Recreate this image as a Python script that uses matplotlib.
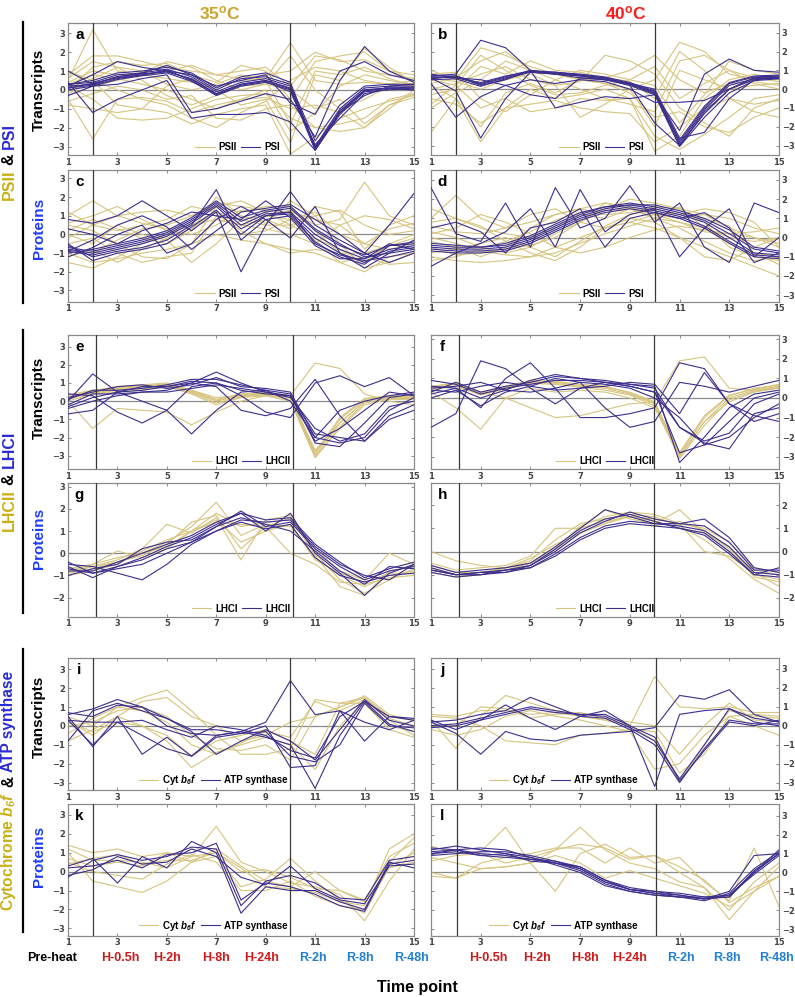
import matplotlib
matplotlib.use('Agg')
import matplotlib.pyplot as plt
from matplotlib.lines import Line2D
from matplotlib.transforms import blended_transform_factory

plt.rcParams['font.family'] = ['Liberation Sans', 'DejaVu Sans']
plt.rcParams['mathtext.fontset'] = 'custom'
plt.rcParams['mathtext.rm'] = 'Liberation Sans'
plt.rcParams['mathtext.bf'] = 'Liberation Sans:bold'
plt.rcParams['mathtext.it'] = 'Liberation Sans:italic'
plt.rcParams['mathtext.bfit'] = 'Liberation Sans:italic:bold'

# ---------------- data ----------------
time_points = list(range(1, 16))
xtick_vals = [1, 3, 5, 7, 9, 11, 13, 15]
stage_labels_left = ['Pre-heat', 'H-0.5h', 'H-2h', 'H-8h', 'H-24h', 'R-2h', 'R-8h', 'R-48h']
stage_labels_right = ['H-0.5h', 'H-2h', 'H-8h', 'H-24h', 'R-2h', 'R-8h', 'R-48h']

# a: 35C transcripts, PSII (gold) / PSI (purple)
a_gold = [
    [0.5, 3.2, 1.0, 0.8, 0.6, 0.4, 0.2, 0.5, 0.6, 2.5, 0.5, 0.3, 0.4, 0.3, 0.2],
    [-0.5, -2.6, -0.5, -0.4, -0.6, -1.2, -0.8, -0.5, -0.4, -1.0, -0.8, -1.2, -2.0, -0.8, -0.4],
    [0.8, 1.8, 1.8, 1.5, 1.2, 1.0, 0.8, 1.0, 1.2, 0.2, 1.8, 1.6, 1.0, 0.8, 0.6],
    [0.0, 1.2, 1.5, 1.3, 1.4, 0.8, 0.4, 1.3, 1.0, -0.5, 1.5, 1.8, 2.0, 1.0, 0.5],
    [-0.8, -1.0, -1.2, -1.0, -1.2, -1.8, -1.3, -1.0, -0.8, -3.4, -2.5, -1.5, -1.0, -0.6, -0.3],
    [0.3, 0.8, 0.6, 0.3, 0.0, -0.5, -1.0, -0.5, 0.0, -2.2, -1.2, 0.2, 0.8, 0.5, 0.3],
    [1.0, 0.5, 0.0, -0.5, -0.8, -1.5, -2.0, -1.2, -0.6, 0.5, 1.2, 1.0, 0.5, 0.3, 0.5],
    [0.2, -0.5, -1.5, -1.6, -1.5, -1.0, -0.5, -0.3, -0.2, -1.5, -2.0, -2.2, -2.0, -1.0, 0.0],
    [-0.3, 0.2, 0.5, 0.8, 1.0, 1.3, 0.8, 0.6, 0.8, 1.0, 2.0, 1.5, 1.6, 1.0, 0.8],
    [0.6, 1.5, 1.2, 0.5, -0.3, -0.8, -0.3, 0.2, 0.3, 0.0, -1.0, -0.5, -1.8, -0.8, -0.2],
    [-0.2, 0.5, -0.8, -1.0, 0.2, 0.6, 0.0, -0.8, -0.5, -2.8, 0.8, 0.5, 2.2, 1.2, 0.4],
    [0.4, 1.0, 0.8, 0.9, 1.5, 1.2, 0.5, 0.0, 0.3, 1.8, 0.0, -1.0, -0.5, 0.2, 0.3],
    [-0.6, -0.2, 0.2, 0.0, -0.5, -0.3, -1.5, -1.6, -1.0, -0.8, -2.0, -1.8, -1.5, -0.5, -0.2],
    [0.1, 0.6, 1.2, 1.0, 0.3, 0.0, 0.3, 0.8, 0.5, -1.8, 1.0, 0.8, 1.2, 0.6, 0.2],
]
a_purple = [
    [0.2, 0.3, 0.7, 0.85, 0.95, 0.6, -0.2, 0.3, 0.5, 0.1, -3.1, -1.1, 0.0, 0.1, 0.15],
    [0.1, 0.25, 0.6, 0.8, 1.05, 0.5, -0.3, 0.2, 0.4, 0.0, -3.2, -1.3, -0.1, 0.0, 0.1],
    [0.3, 0.4, 0.8, 0.9, 1.1, 0.7, -0.1, 0.4, 0.6, 0.2, -3.0, -1.0, 0.1, 0.2, 0.2],
    [0.0, 0.2, 0.55, 0.75, 0.9, 0.45, -0.25, 0.25, 0.45, -0.1, -2.9, -1.5, -0.2, 0.05, 0.0],
    [1.0, 0.3, 0.7, 0.9, 1.3, 0.8, 0.0, 0.6, 0.7, 0.3, -2.7, -0.8, 0.2, 0.3, 0.3],
    [0.4, -1.2, -0.5, 0.0, 0.5, -1.5, -1.3, -1.3, -1.2, -1.7, -3.2, -1.2, 0.0, 0.1, 0.0],
    [0.2, 0.8, 1.5, 1.2, 1.0, 0.8, 0.2, 0.5, 0.8, -0.7, -1.3, 1.0, 1.5, 0.8, 0.5],
    [-0.3, 0.2, 0.3, 0.6, 0.8, -1.2, -1.0, -0.6, -0.2, -0.5, -2.5, 0.5, 2.3, 1.0, 0.4],
    [0.3, 0.5, 0.9, 1.0, 1.2, 0.9, 0.1, 0.7, 0.9, 0.4, -3.1, -1.2, -0.3, 0.2, 0.3],
    [0.1, 0.35, 0.65, 0.8, 1.0, 0.55, -0.2, 0.3, 0.5, 0.05, -3.0, -1.2, -0.05, 0.1, 0.1],
]

# b: 40C transcripts, PSII / PSI
b_gold = [
    [-2.3, -0.5, -2.8, -1.0, 0.0, -0.5, -0.3, 0.0, -0.5, -2.5, -3.2, -2.4, -1.5, -0.5, -0.3],
    [1.0, 0.5, 2.2, 1.8, 1.2, 0.8, 0.5, 0.3, 0.0, 0.5, 2.5, 2.0, 0.8, 0.5, 0.6],
    [0.3, 0.6, 1.5, 2.0, 1.0, 0.5, 0.0, -0.5, -0.8, -1.2, 1.5, 1.8, 1.0, 0.3, 0.0],
    [-0.5, -0.8, -1.8, -1.0, -0.8, -0.6, -1.0, -1.2, -1.3, -2.8, -2.0, -1.0, -0.5, -1.2, -1.5],
    [0.0, 0.3, 0.8, 1.2, 0.5, 0.2, 0.4, 1.8, 1.5, 0.8, -1.0, -1.8, -2.5, -1.0, -0.5],
    [0.5, 0.2, -1.0, -0.5, -1.2, -1.0, -0.5, -0.6, -0.5, -3.3, -2.5, -0.5, 0.5, 0.8, 0.5],
    [-1.0, -0.2, 0.5, 1.5, 1.0, 0.8, 0.5, 0.6, 1.0, 1.8, 0.5, -0.2, 0.3, 0.4, 0.2],
    [0.8, 0.9, -0.5, -1.2, -0.3, 0.5, 1.0, 0.8, 0.5, 0.2, -1.8, -0.3, 1.5, 1.0, 0.8],
    [-0.3, 0.0, 1.2, 0.8, 1.5, 1.0, 0.9, 0.6, 0.4, -0.5, 2.0, 1.0, -0.5, -0.8, -0.6],
    [0.2, -0.5, -2.0, -0.2, 0.3, -0.2, 0.5, 0.3, -0.2, -1.5, -1.2, -2.0, -2.3, -1.5, -1.0],
    [0.6, 0.4, 0.0, 0.5, 0.8, 0.2, -1.5, -0.8, 0.0, -2.0, 1.0, 0.5, 0.0, 0.2, 0.3],
    [-0.8, 0.2, 1.8, 1.0, 0.2, -0.3, -0.2, 0.2, 0.5, 1.2, -0.5, 0.3, 1.0, 0.6, 0.4],
]
b_purple = [
    [0.6, 0.65, 0.25, 0.6, 0.95, 0.85, 0.75, 0.6, 0.3, -0.2, -2.9, -1.1, 0.2, 0.55, 0.65],
    [0.7, 0.7, 0.3, 0.65, 1.0, 0.9, 0.8, 0.65, 0.35, -0.1, -2.8, -1.0, 0.3, 0.65, 0.7],
    [0.5, 0.55, 0.15, 0.55, 0.9, 0.8, 0.7, 0.55, 0.2, -0.3, -3.0, -1.3, 0.0, 0.5, 0.6],
    [0.65, 0.6, 0.35, 0.7, 0.95, 0.9, 0.75, 0.6, 0.25, -0.25, -3.05, -1.5, -0.2, 0.45, 0.55],
    [0.55, 0.7, 0.2, 0.5, 1.0, 0.8, 0.7, 0.5, 0.3, -0.15, -2.7, -0.9, 0.35, 0.7, 0.75],
    [0.7, 0.8, 2.6, 2.2, 1.0, -1.0, -0.7, -0.4, -0.5, -0.3, -2.2, 0.8, 1.6, 1.0, 0.9],
    [0.6, -0.1, -2.6, -0.5, 0.9, 0.8, 0.6, 0.5, 0.2, -1.8, -3.0, -1.2, 0.0, 0.6, 0.6],
    [0.3, -1.5, -0.4, 0.2, 0.5, 0.3, 0.5, 0.4, 0.0, -0.7, -0.7, -0.6, 0.0, 0.6, 0.7],
    [0.8, 0.6, 0.5, 0.2, -0.3, -0.5, 0.6, 0.5, 0.3, 0.0, -2.6, -2.3, -0.5, 0.5, 0.6],
]

# c: 35C proteins, PSII / PSI
c_gold = [
    [1.0, 1.8, 1.0, 0.6, 0.3, 0.5, 1.2, 0.8, 1.0, 1.3, 0.5, 0.8, 2.8, 1.0, 0.5],
    [-1.0, -1.5, -1.3, -1.0, -0.8, -0.5, 0.0, -0.3, -0.5, -0.8, -1.0, -1.5, -2.0, -1.2, -1.0],
    [0.5, 0.2, -0.5, -1.2, -1.3, -0.5, 1.5, 1.8, 1.2, 0.5, -0.2, -0.8, -1.5, -0.5, 0.0],
    [-0.2, 0.5, 1.0, 1.2, 1.3, 1.0, 1.7, 1.5, 1.3, 1.2, 0.8, 0.5, -0.5, -0.8, -0.5],
    [-1.5, -1.8, -1.2, -0.5, 0.0, 0.5, 0.8, 0.5, 0.3, 0.0, -0.5, 0.5, 1.0, 0.8, 0.3],
    [0.2, 0.8, 0.3, -0.2, -0.5, 0.2, 2.0, 1.0, 0.6, 1.8, 1.0, -0.5, -1.8, -1.5, -1.0],
    [-0.5, -0.2, -1.0, -1.5, -1.2, -1.0, 1.0, 0.5, 0.8, 0.3, 1.5, 1.2, -0.8, 0.5, 1.0],
    [1.2, 0.5, 0.2, 0.5, 0.8, 1.5, 1.2, 0.2, -0.5, -1.0, -0.8, -1.0, -1.0, -0.6, -0.2],
    [-0.8, -1.0, -0.3, 0.3, 0.5, 1.0, 1.5, 1.2, 1.5, 1.5, 0.2, -1.0, -1.5, -0.5, -0.8],
    [0.0, -0.5, 0.5, 0.0, -0.3, -1.5, -0.5, 0.8, 0.5, 0.5, 1.0, 1.3, 0.5, 0.0, 0.2],
    [0.6, 1.0, 1.5, 0.8, 0.2, 0.0, 0.5, 1.3, 1.0, 0.8, -0.3, -1.5, -1.2, -1.6, -1.5],
    [-1.2, -0.8, -1.5, -0.8, -0.2, 0.3, 1.3, 0.0, 0.2, 0.8, 1.2, 0.0, -0.5, 0.3, 0.6],
]
c_purple = [
    [-0.8, -1.0, -0.7, -0.4, 0.0, 0.7, 1.6, 0.5, 1.1, 1.2, 0.0, -0.8, -1.3, -0.8, -0.6],
    [-0.9, -1.1, -0.8, -0.5, -0.1, 0.6, 1.5, 0.3, 1.0, 1.1, -0.2, -1.0, -1.5, -0.9, -0.7],
    [-0.7, -0.9, -0.6, -0.3, 0.1, 0.8, 1.7, 0.7, 1.2, 1.4, 0.2, -0.6, -1.1, -0.6, -0.5],
    [-1.0, -0.8, -0.5, -0.2, 0.2, 0.9, 1.8, 0.9, 1.3, 1.5, 0.3, -0.5, -1.2, -1.0, -0.8],
    [-0.6, -1.2, -0.9, -0.7, -0.3, 0.5, 2.4, -0.3, 0.8, 1.0, -0.4, -1.2, -1.6, -0.6, -0.4],
    [0.8, 0.6, 1.0, 1.8, 1.0, 0.2, 1.2, -2.0, 0.5, 2.3, 0.5, -0.3, -1.0, 0.5, 2.2],
    [-1.2, -0.7, 0.0, 0.5, -1.0, -0.5, 0.8, 1.5, 0.8, -0.2, 1.5, -1.0, -1.8, -1.0, -0.3],
    [0.3, 0.0, -0.5, 0.2, 0.6, 1.2, 1.0, 0.8, 1.8, 0.9, -0.6, -1.3, -1.3, -0.5, -0.8],
    [-0.5, -1.4, -1.0, -0.8, -0.5, 0.4, 1.3, 0.0, 1.0, 1.2, -0.5, -1.1, -1.4, -1.2, -0.9],
    [-0.9, -0.3, 0.5, 1.0, 0.4, -0.8, 0.2, 1.2, 1.4, 1.6, 0.8, 0.0, -1.0, -1.5, -1.0],
]

# d: 40C proteins, PSII / PSI
d_gold = [
    [1.0, 2.2, 1.0, 0.5, 0.8, 1.2, 1.5, 1.8, 1.5, 1.2, 1.0, 1.2, 1.0, 0.5, 0.2],
    [-1.0, -1.2, -1.3, -1.2, -1.0, -0.5, 0.0, 0.5, 0.8, 0.5, 0.0, -0.5, -1.0, -1.5, -2.0],
    [0.3, 0.0, -0.5, -0.8, -0.5, 0.2, 0.8, 1.5, 2.0, 1.8, 1.5, 1.2, 0.5, 0.0, -0.5],
    [-0.2, -0.5, -1.0, -0.5, 0.5, 1.2, 1.5, 1.2, 1.3, 1.6, 1.5, 0.8, -0.5, -1.0, -1.2],
    [0.6, 0.3, 0.2, 0.5, 1.2, 1.5, 0.8, 0.5, 0.8, 1.2, 0.8, 0.3, 0.2, 0.3, 0.5],
    [-0.8, -0.6, -0.3, 0.0, -0.5, -1.0, -0.2, 0.6, 1.2, 1.5, 1.2, 1.5, 1.3, 0.8, -0.5],
    [0.0, -0.3, -0.7, -0.9, -1.0, -0.8, -0.3, 0.2, 0.6, 1.0, 0.8, 0.5, -0.3, -0.8, -1.0],
    [1.5, 1.0, 0.5, 0.2, 0.0, 0.5, 1.2, 1.0, 1.5, 1.0, 1.6, 0.5, 0.0, -0.2, 0.0],
    [-0.5, -0.9, -0.8, -0.6, -0.4, 0.0, 0.8, 1.8, 1.6, 1.0, 0.5, -0.2, -0.8, -1.2, -1.0],
    [0.2, 0.5, 1.2, 0.8, 0.2, -0.5, -0.8, -0.5, 0.0, 0.4, 0.6, 0.4, 0.2, 0.0, -0.3],
    [-1.2, -1.0, -0.6, -0.2, 0.3, 0.9, 1.3, 1.4, 1.5, 1.3, 1.2, 1.0, 0.6, -0.8, -1.4],
    [0.8, 1.0, 0.6, -0.2, -0.8, -1.2, -0.5, 0.5, 1.0, 0.8, 0.0, -1.0, -1.2, -0.5, 0.0],
]
d_purple = [
    [-0.5, -0.6, -0.6, -0.5, -0.1, 0.5, 1.1, 1.5, 1.7, 1.5, 1.2, 0.8, 0.0, -0.8, -0.9],
    [-0.6, -0.7, -0.7, -0.6, -0.2, 0.4, 1.0, 1.4, 1.6, 1.4, 1.1, 0.6, -0.2, -0.9, -1.0],
    [-0.4, -0.5, -0.5, -0.4, 0.0, 0.6, 1.2, 1.6, 1.8, 1.6, 1.3, 0.9, 0.2, -0.6, -0.8],
    [-0.7, -0.8, -0.8, -0.7, -0.3, 0.3, 0.9, 1.3, 1.5, 1.3, 1.0, 0.5, -0.3, -1.0, -1.1],
    [-0.3, -0.4, -0.5, -0.3, 0.1, 0.7, 1.3, 1.6, 1.7, 1.7, 1.4, 1.0, 0.4, -0.5, -0.7],
    [2.6, 0.2, -0.2, 1.8, -0.5, 2.6, 0.5, 1.0, 2.7, 0.8, 1.8, -0.5, -1.3, 1.8, 1.3],
    [-1.5, -0.8, -0.3, 0.3, 1.5, -0.5, 2.5, 0.3, 1.2, 1.5, -1.0, 0.5, 1.5, -1.0, 0.0],
    [0.5, 0.8, 0.3, -0.8, 0.5, 0.8, 1.5, -0.5, 1.0, 1.3, 1.0, 1.3, 0.5, -1.3, -0.8],
]

# e: 35C transcripts, LHCI (gold) / LHCII (purple)
e_gold = [
    [0.2, 0.5, 0.7, 0.8, 0.9, 0.5, 0.0, 0.3, 0.4, 0.2, -3.0, -1.2, 0.0, 0.2, 0.2],
    [0.3, 0.55, 0.75, 0.85, 0.95, 0.55, 0.05, 0.35, 0.45, 0.25, -2.9, -1.0, 0.1, 0.25, 0.25],
    [0.1, 0.45, 0.65, 0.75, 0.85, 0.45, -0.1, 0.25, 0.35, 0.1, -3.1, -1.4, -0.1, 0.15, 0.15],
    [0.35, 0.6, 0.8, 0.9, 1.0, 0.6, 0.1, 0.4, 0.5, 0.3, -2.8, -0.9, 0.15, 0.3, 0.3],
    [0.0, 0.4, 0.6, 0.7, 0.8, 0.4, -0.2, 0.2, 0.3, 0.0, -3.1, -1.5, -0.2, 0.1, 0.1],
    [0.0, -1.5, -0.4, -0.5, -0.6, -1.3, -0.6, 0.0, 0.3, 0.2, -2.7, -1.2, 0.0, 0.2, 0.1],
    [0.2, 0.4, 0.5, 0.6, 0.8, 0.6, 0.2, 0.3, 0.4, 0.3, 2.1, 1.8, 0.4, 0.0, -0.2],
]
e_purple = [
    [0.0, 1.5, 0.5, 0.0, -0.5, -1.8, -0.5, 0.5, 0.6, 0.0, -2.0, -2.3, -2.0, -0.5, 0.2],
    [-0.7, -0.5, 0.5, 0.8, 0.8, 1.0, 1.6, 1.0, 0.5, 0.3, -2.2, -1.5, -0.5, 0.5, 0.3],
    [0.4, 0.3, -0.6, -1.2, -0.5, 0.8, 1.0, 0.3, -0.6, -0.9, 1.0, 1.4, 0.8, 1.3, 0.3],
    [-0.3, 0.2, 0.5, 0.6, 0.8, 1.1, 1.0, 0.6, 0.4, 0.3, -1.8, -2.0, -2.2, -0.8, -0.2],
    [0.2, 0.5, 0.8, 0.9, 0.7, 0.9, 1.3, 0.8, 0.7, 0.5, -2.0, -0.5, 0.0, 0.3, 0.5],
    [-0.2, 0.4, 0.4, 0.5, 0.6, 1.0, 0.8, -0.5, -0.8, -0.4, 1.2, -0.8, -2.2, -1.0, -0.5],
    [0.1, 0.6, 0.6, 0.7, 0.9, 1.2, 1.2, 0.9, 0.6, 0.4, -2.3, -2.5, -1.2, 0.2, 0.4],
    [-0.4, 0.0, 0.3, 0.5, 0.5, 0.7, 0.9, 0.7, 0.5, 0.2, -1.5, -2.2, -1.8, -0.3, 0.0],
]

# f: 40C transcripts, LHCI / LHCII
f_gold = [
    [0.5, 0.7, 0.2, 0.5, 0.8, 0.75, 0.6, 0.5, 0.2, -0.3, -3.0, -1.2, 0.0, 0.4, 0.6],
    [0.6, 0.75, 0.3, 0.55, 0.85, 0.8, 0.65, 0.55, 0.3, -0.2, -2.9, -1.0, 0.1, 0.5, 0.65],
    [0.4, 0.6, 0.15, 0.45, 0.75, 0.7, 0.55, 0.4, 0.15, -0.4, -3.1, -1.4, -0.1, 0.35, 0.55],
    [0.55, 0.8, 0.25, 0.6, 0.9, 0.85, 0.7, 0.6, 0.25, -0.25, -2.8, -0.9, 0.15, 0.45, 0.7],
    [0.3, -0.5, -1.6, 0.0, 0.5, 0.3, 0.4, 0.3, 0.0, -0.5, -3.0, -1.2, -0.2, 0.3, 0.5],
    [0.5, 0.6, 0.3, 0.0, -0.5, -1.0, -0.9, -0.6, -0.3, -0.2, 1.9, 2.1, 0.5, 0.4, 0.5],
]
f_purple = [
    [-1.5, -0.8, 1.9, 1.5, 0.5, -0.3, 0.5, 0.8, 0.6, 0.3, -1.5, -2.3, -2.6, -0.8, -0.5],
    [0.2, 0.5, -0.5, 1.0, 1.8, 0.5, -1.0, -1.0, -0.8, -0.5, 1.8, 1.5, -0.3, -0.9, -1.2],
    [0.5, 0.6, 0.8, 0.4, 0.3, 0.5, 0.8, -0.5, -1.5, -1.2, 0.8, 0.6, 0.3, 0.6, 0.9],
    [0.3, 0.8, 0.3, 0.6, 0.8, 1.1, 1.0, 0.9, 0.7, 0.5, -1.5, -2.2, -1.8, -0.3, 0.2],
    [0.6, 0.5, 0.0, 0.4, 0.9, 1.2, 1.0, 0.8, 0.6, 0.3, -2.8, -2.4, -1.2, 0.0, 0.3],
    [0.9, 0.7, 0.2, 0.5, 0.7, 0.9, 0.9, 0.8, 0.7, 0.6, -3.3, -2.0, -0.5, 0.2, 0.4],
    [0.0, 0.4, -0.4, 0.3, 0.6, 1.0, 0.8, 0.7, 0.5, 0.0, -1.0, -2.4, -2.0, -1.0, -0.3],
    [0.4, 0.3, 0.6, 0.8, 0.6, 0.4, 0.5, 0.6, 0.8, 0.7, -0.8, 1.3, -0.3, -1.2, -0.8],
]

# g: 35C proteins, LHCI / LHCII
g_gold = [
    [-0.9, -0.7, -0.4, 0.0, 0.5, 1.2, 2.3, 0.8, 1.3, 1.2, -0.2, -1.0, -1.5, -1.0, -0.8],
    [-0.8, -0.6, -0.3, 0.2, 1.3, 0.9, 1.6, -0.3, 1.5, 1.7, 0.0, -1.2, -1.8, -1.2, -0.7],
    [-1.0, -0.8, -0.5, 0.1, 0.6, 1.0, 1.5, 0.5, 1.0, 1.3, -0.3, -0.9, -1.3, -0.9, -0.9],
    [-0.7, -0.5, 0.1, -0.2, 0.2, 1.0, 1.8, 1.2, 1.4, 1.5, 0.2, -0.8, -1.2, 0.0, -0.5],
    [-0.9, -0.6, -0.4, -0.1, 0.4, 1.4, 1.7, 0.2, 1.2, 1.6, -0.1, -1.5, -1.9, -0.8, -0.6],
    [-0.8, -0.5, -0.2, 0.0, 0.3, 1.0, 1.4, 1.3, 1.2, 0.0, -0.5, -1.3, -1.4, -1.1, -1.0],
]
g_purple = [
    [-0.6, -1.1, -0.6, -0.3, 0.2, 0.5, 1.2, 1.9, 1.2, 1.4, 0.2, -0.6, -1.2, -0.8, -0.6],
    [-0.8, -0.8, -0.4, 0.0, 0.4, 0.8, 1.4, 1.8, 1.0, 1.8, 0.0, -0.9, -1.9, -0.9, -0.5],
    [-0.5, -0.6, -0.9, -1.2, -0.5, 0.4, 1.0, 1.5, 1.4, 1.5, 0.3, -0.5, -1.0, -1.2, -0.5],
    [-1.0, -0.7, -0.5, 0.2, 0.5, 0.6, 1.2, 1.6, 1.3, 1.0, 0.1, -0.8, -1.4, -0.6, -0.7],
    [-0.4, -0.9, -0.7, -0.5, 0.0, 0.5, 1.0, 1.4, 1.1, 1.3, -0.2, -1.0, -1.3, -1.0, -0.9],
    [-0.7, -0.9, -0.6, -0.2, 0.3, 0.7, 1.3, 1.8, 1.5, 1.6, 0.4, -0.4, -1.1, -0.7, -0.4],
]

# h: 40C proteins, LHCI / LHCII
h_gold = [
    [0.0, -0.4, -0.6, -0.7, -0.5, 0.1, 1.1, 1.5, 1.7, 1.6, 1.2, 0.0, -0.2, -0.9, -1.5],
    [-0.5, -0.8, -0.7, -0.6, -0.2, 1.0, 1.0, 1.8, 1.4, 1.2, 1.8, 0.8, 0.2, -1.0, -1.2],
    [-0.7, -1.0, -0.9, -0.8, -0.5, 0.2, 1.0, 1.3, 1.5, 1.3, 1.0, 0.8, 0.0, -0.8, -1.0],
    [-0.8, -1.0, -1.0, -0.7, -0.3, 0.3, 0.8, 1.2, 1.6, 1.1, 1.3, 0.9, 0.1, -1.1, -1.3],
    [-0.6, -0.9, -0.9, -0.7, -0.4, 0.5, 1.2, 1.4, 1.6, 1.5, 1.1, 0.5, -0.3, -1.2, -1.8],
    [-0.9, -1.1, -1.0, -0.8, -0.6, 0.0, 0.8, 1.2, 1.5, 1.4, 1.2, 1.0, 0.4, -0.7, -0.9],
]
h_purple = [
    [-0.7, -1.0, -0.9, -0.8, -0.6, 0.0, 0.8, 1.3, 1.7, 1.4, 1.2, 1.4, 0.6, -0.7, -0.9],
    [-0.8, -1.0, -0.9, -0.9, -0.7, -0.1, 0.6, 1.1, 1.3, 1.2, 1.1, 0.9, 0.2, -0.9, -1.0],
    [-0.9, -1.1, -1.0, -0.9, -0.6, 0.1, 0.9, 1.4, 1.6, 1.3, 1.0, 0.7, -0.1, -1.0, -1.1],
    [-0.6, -0.9, -0.8, -0.7, -0.5, 0.2, 1.0, 1.8, 1.5, 1.2, 1.2, 1.1, 0.4, -0.8, -0.8],
    [-0.8, -1.0, -1.0, -0.8, -0.7, -0.2, 0.5, 1.0, 1.2, 1.1, 1.0, 0.8, 0.0, -1.0, -0.7],
]

# i: 35C transcripts, Cyt b6f (gold) / ATP synthase (purple)
i_gold = [
    [0.5, 0.0, 1.0, 1.5, 1.9, 0.8, -0.5, -1.5, -1.5, -1.2, 1.4, 1.2, 1.5, 0.5, 0.3],
    [-0.8, -0.2, 0.5, 1.3, 1.5, 0.5, 0.0, -0.8, -0.5, 0.2, 0.5, 1.0, 1.5, 0.3, -0.5],
    [0.2, -0.3, 0.2, 0.0, -0.8, -2.2, -1.4, -1.0, -0.6, -1.0, -2.3, 0.0, 1.3, 0.0, -0.3],
    [0.0, 0.2, 0.8, 1.0, 0.5, -0.5, -1.2, -1.3, -1.0, -1.8, 0.5, 1.0, 1.6, 0.6, 0.3],
    [0.3, -0.5, 0.5, 0.0, -0.5, -1.6, -0.8, -0.5, -0.2, -0.8, -1.5, 1.2, 1.2, -0.2, -0.6],
    [-0.4, 0.4, 1.0, 0.8, 0.2, -1.0, -1.5, -0.9, -0.3, -0.6, 1.3, 0.8, 1.4, 0.4, 0.0],
]
i_purple = [
    [0.6, 0.9, 1.4, 1.0, 0.0, -0.4, -0.5, -0.3, 0.2, 2.4, 0.6, 0.8, 0.2, -0.2, 0.3],
    [0.5, -1.1, 0.5, -1.5, -0.6, -1.6, -0.5, -0.3, -0.6, -1.0, -3.3, -0.5, 1.3, 0.1, -0.3],
    [-0.8, 0.8, 1.2, 0.8, 0.4, -0.3, -1.5, -0.8, -0.2, -0.8, -1.8, -0.2, 1.4, 0.3, 0.0],
    [0.3, 0.2, 0.2, -0.5, -1.2, -1.6, -0.6, -0.4, -0.3, -1.6, -1.9, -1.0, 1.2, 0.0, -0.1],
    [0.7, 0.5, 1.1, 1.0, 0.4, -0.2, -0.2, -0.4, 0.0, -2.2, -2.1, 0.8, -0.8, 0.5, 0.4],
    [0.3, -1.0, 0.2, 0.3, -0.2, -0.6, 0.0, -0.2, -0.5, -1.3, -1.7, 0.5, 1.3, 0.5, 0.3],
]

# j: 40C transcripts, Cyt b6f / ATP synthase
j_gold = [
    [0.3, -1.2, 0.5, 1.6, 1.2, 0.8, 0.5, 0.3, 0.0, 2.6, 1.0, 0.9, 1.0, 0.7, 0.7],
    [0.5, 0.4, 0.0, -0.8, -0.9, -1.0, -0.5, -0.4, -0.2, -0.3, -2.5, -1.5, 0.5, 0.0, -0.5],
    [0.6, 0.5, 0.8, 0.8, 0.6, 0.7, 0.5, 0.3, 0.0, -0.8, -3.0, -1.0, 0.8, 0.5, 0.4],
    [0.0, 0.0, 1.0, 0.9, 0.4, 0.6, 0.7, 0.4, 0.2, 0.0, -1.5, 0.0, 1.2, 0.3, 0.2],
    [-0.2, -0.5, -0.2, 0.5, 0.8, 0.5, 0.3, 0.0, -0.3, -2.3, -2.0, -0.5, 0.5, 0.6, 0.5],
]
j_purple = [
    [0.2, -0.4, -1.5, -0.3, -0.7, -0.8, -0.5, -0.4, -0.3, -0.1, 1.6, 1.4, 1.9, 0.6, 0.2],
    [0.3, -0.2, 0.3, 1.1, 0.4, -0.2, 0.5, 0.8, 0.0, -3.2, 0.6, 0.8, 0.9, 0.4, 0.2],
    [0.2, 0.3, 0.6, 0.8, 1.5, 1.0, 0.5, 0.4, -0.2, -1.0, -3.0, -1.2, 0.3, 0.1, 0.1],
    [0.0, 0.1, 0.4, 0.7, 1.0, 0.8, 0.6, 0.5, -0.1, -0.8, -2.8, -1.0, 0.9, 0.2, 0.0],
    [-0.1, 0.0, 0.3, 0.6, 0.9, 0.7, 0.6, 0.6, 0.0, -0.6, -2.9, -1.3, 0.2, 0.0, 0.3],
]

# k: 35C proteins, Cyt b6f / ATP synthase
k_gold = [
    [1.4, 1.0, 1.2, 0.8, 1.0, 0.8, 2.4, 0.5, 0.0, -0.6, -0.8, -1.2, -2.6, -0.5, 1.2],
    [1.0, -0.5, -0.8, -1.1, -0.5, 0.5, 1.2, 0.3, -0.5, -0.8, 0.0, -1.0, -1.5, 0.5, 1.8],
    [0.7, 0.3, 0.5, 0.3, 1.0, 0.5, 0.8, -0.8, -0.4, 0.7, -0.5, -1.5, -2.2, 0.3, 1.0],
    [1.2, 0.6, 0.6, 0.5, 0.2, 0.8, 1.0, 0.2, -0.8, -0.9, -1.1, -1.6, -1.8, 1.2, 2.0],
    [0.5, 0.0, -0.2, -0.4, 0.4, 0.9, 0.5, -1.0, -1.0, -0.5, -1.3, -1.8, -2.0, 0.2, 0.5],
    [0.4, 0.7, 0.9, 0.4, 0.6, 0.6, 1.0, 0.0, 0.1, -0.3, -0.9, -1.0, -1.6, 0.8, 1.5],
]
k_purple = [
    [0.3, 0.7, -0.6, 0.8, 0.2, 1.6, 1.0, -2.2, -0.8, -1.0, -1.0, -1.6, -2.0, 0.5, 0.2],
    [-0.3, 0.6, 0.9, 0.6, 0.8, 1.3, 1.2, -1.8, -0.5, -0.2, -0.6, -1.4, -1.5, 0.6, 0.8],
    [0.2, 0.3, 0.6, 0.2, 0.9, 1.0, 1.5, -1.5, -0.6, -0.8, -1.2, -1.8, -2.1, 0.4, 0.6],
    [-0.2, 0.1, 0.8, 0.4, 0.5, 1.2, 0.8, -0.3, -0.7, 0.3, -0.9, -1.5, -1.7, 0.3, 0.4],
]

# l: 40C proteins, Cyt b6f / ATP synthase
l_gold = [
    [1.4, 1.0, 1.1, 2.4, 0.5, -1.0, 1.0, 1.5, 0.8, 0.9, 0.0, -0.8, -2.0, -0.5, 0.5],
    [-0.2, -0.3, 0.2, 0.3, 0.5, 1.2, 2.4, 1.2, 0.5, 0.2, -0.5, -0.8, -2.5, -1.0, -0.2],
    [0.0, -0.3, 0.5, 0.8, 1.0, 1.3, 1.3, 0.5, 1.3, 0.5, 0.8, -0.5, -1.5, 1.3, -1.8],
    [0.6, 0.9, 1.0, 0.5, 0.8, 1.2, 1.5, 1.3, 0.7, 0.9, 0.3, -0.4, -1.6, -0.8, -0.2],
    [0.8, 0.5, 0.2, 0.3, 0.5, 0.9, 0.5, -0.3, 0.1, -0.3, -0.7, -1.1, -1.8, -1.0, 0.3],
]
l_purple = [
    [1.1, 1.2, 1.0, 0.9, 0.7, 0.5, 0.2, -0.5, -0.9, -1.1, -1.2, -1.4, -1.2, 0.0, 1.0],
    [1.0, 1.1, 0.9, 0.8, 0.7, 0.6, 0.3, -0.4, -0.8, -1.0, -1.1, -1.3, -1.3, 0.1, 1.0],
    [1.2, 1.4, 1.2, 1.0, 0.8, 0.5, 0.1, -0.6, -1.0, -1.2, -1.3, -1.5, -1.1, 0.2, 1.1],
    [0.9, 1.0, 1.1, 1.1, 0.9, 0.6, 0.2, -0.5, -0.9, -1.1, -1.3, -1.4, -1.0, 0.9, 1.0],
    [1.0, 1.2, 1.3, 1.2, 0.8, 0.4, 0.0, -0.7, -1.0, -1.2, -1.3, -1.3, -1.2, -0.1, 0.9],
    [1.3, 1.2, 0.9, 1.0, 0.6, 0.5, 0.3, -0.4, -0.9, -1.0, -1.2, -1.4, -1.3, 0.0, 1.2],
]

legend_psi = ['PSII', 'PSI']
legend_lhc = ['LHCI', 'LHCII']
legend_cyt = [r'Cyt $\mathbfit{b_6f}$', 'ATP synthase']

# ---------------- style ----------------
GOLD = '#D7C47F'
PURPLE = '#3C2E8C'
W, H = 795, 997

fig = plt.figure(figsize=(W / 100, H / 100), dpi=100)

left_x, left_w = 68, 346
right_x, right_w = 431, 348
rows = [(23.3, 155), (170, 301.7), (335, 469), (483.3, 616.7), (658.3, 790), (804, 935.7)]

panels = [
    # letter, gold, purple, labels, col, row, ylim, yticks, vlines, legend center
    ('a', a_gold, a_purple, legend_psi, 0, 0, (-3.45, 3.53), range(-3, 4), (2, 10), 0.49),
    ('b', b_gold, b_purple, legend_psi, 1, 0, (-3.5, 3.5), range(-3, 4), (2, 10), 0.49),
    ('c', c_gold, c_purple, legend_psi, 0, 1, (-3.6, 3.45), range(-3, 4), (2, 10), 0.49),
    ('d', d_gold, d_purple, legend_psi, 1, 1, (-3.34, 3.52), range(-3, 4), (2, 10), 0.49),
    ('e', e_gold, e_purple, legend_lhc, 0, 2, (-3.73, 3.64), range(-3, 4), (2.15, 10.1), 0.50),
    ('f', f_gold, f_purple, legend_lhc, 1, 2, (-3.63, 3.22), range(-3, 4), (2.13, 9.97), 0.50),
    ('g', g_gold, g_purple, legend_lhc, 0, 3, (-2.86, 3.15), range(-2, 4), (2.15, 10.1), 0.50),
    ('h', h_gold, h_purple, legend_lhc, 1, 3, (-2.81, 2.94), range(-2, 3), (2.13, 9.97), 0.50),
    ('i', i_gold, i_purple, legend_cyt, 0, 4, (-3.39, 3.58), range(-3, 4), (2.03, 10.0), 0.42),
    ('j', j_gold, j_purple, legend_cyt, 1, 4, (-3.39, 3.56), range(-3, 4), (2.06, 10.05), 0.38),
    ('k', k_gold, k_purple, legend_cyt, 0, 5, (-3.39, 3.58), range(-3, 4), (2.03, 10.0), 0.42),
    ('l', l_gold, l_purple, legend_cyt, 1, 5, (-3.35, 3.63), range(-3, 4), (2.06, 10.05), 0.38),
]

axes = {}
for letter, gold, purple, labels, col, row, ylim, yticks, vl, lcx in panels:
    x0, w = (left_x, left_w) if col == 0 else (right_x, right_w)
    top, bot = rows[row]
    ax = fig.add_axes([x0 / W, 1 - bot / H, w / W, (bot - top) / H])
    axes[letter] = ax
    ax.axhline(0, color='#8a8a8a', lw=0.9, zorder=1)
    for k, s in enumerate(gold):
        ax.plot(time_points, s, color=GOLD, lw=0.8, zorder=2,
                label=labels[0] if k == 0 else None)
    for k, s in enumerate(purple):
        ax.plot(time_points, s, color=PURPLE, lw=0.8, zorder=3,
                label=labels[1] if k == 0 else None)
    for v in vl:
        ax.axvline(v, color='#3a3a3a', lw=0.9, zorder=4)
    ax.set_xlim(1, 15)
    ax.set_ylim(*ylim)
    ax.set_xticks(xtick_vals)
    ax.set_yticks(list(yticks))
    ax.tick_params(direction='in', length=2.5, width=0.6, colors='#777777',
                   labelcolor='#444444', labelsize=6, pad=2,
                   top=True, right=True, left=True, bottom=True,
                   labelleft=(col == 0), labelright=(col == 1))
    for lab in ax.get_xticklabels() + ax.get_yticklabels():
        lab.set_fontweight('bold')
        lab.set_family('DejaVu Sans')
    for sp in ax.spines.values():
        sp.set_color('#8a8a8a')
        sp.set_linewidth(0.9)
    ax.text(0.033, 0.91, letter, transform=ax.transAxes, fontsize=11,
            fontweight='bold', ha='center', va='center', zorder=6)
    leg = ax.legend(loc='lower center', bbox_to_anchor=(lcx, 0.0), ncol=2,
                    frameon=False, fontsize=7, handlelength=2.0,
                    handletextpad=0.4, columnspacing=0.4, borderaxespad=0.1,
                    borderpad=0.2)
    for t in leg.get_texts():
        t.set_fontweight('bold')
    leg.set_zorder(7)

# ylabels
row_label_y = [89.5, 228.5, 398, 538, 717, 856.7]
for r, yc in enumerate(row_label_y):
    if r % 2 == 0:
        fig.text(39 / W, 1 - yc / H, 'Transcripts', rotation=90, fontsize=11,
                 fontweight='bold', color='black', ha='center', va='center')
    else:
        fig.text(39 / W, 1 - yc / H, 'Proteins', rotation=90, fontsize=11,
                 fontweight='bold', color='#1E3CFF', ha='center', va='center')

# column titles
fig.text(220 / W, 1 - 13 / H, r'35$^{\mathbf{o}}$C', fontsize=12.5, fontweight='bold',
         color='#C9A227', ha='center', va='center')
fig.text(626 / W, 1 - 13 / H, r'40$^{\mathbf{o}}$C', fontsize=12.5, fontweight='bold',
         color='#FF1A1A', ha='center', va='center')

# group bars
for y0, y1 in [(21.7, 303), (330, 612.7), (649, 931.7)]:
    fig.add_artist(Line2D([23 / W, 23 / W], [1 - y0 / H, 1 - y1 / H], color='black', lw=1.6))

# group labels with coloured parts
G_GOLD = '#C9B014'
G_BLUE = '#2B2BD6'
renderer = fig.canvas.get_renderer()


def vertical_parts(xpx, ycpx, parts, fs=11.5):
    texts, lens = [], []
    for s, c in parts:
        t = fig.text(0, 0, s, color=c, fontsize=fs, fontweight='bold', rotation=90,
                     ha='center', va='center')
        bb = t.get_window_extent(renderer)
        texts.append(t)
        lens.append(bb.height)
    gap = fs * 0.28 * 100 / 72
    total = sum(lens) + gap * (len(parts) - 1)
    y = (H - ycpx) - total / 2
    for t, L in zip(texts, lens):
        t.set_position((xpx / W, (y + L / 2) / H))
        y += L + gap


vertical_parts(9, 161.5, [('PSII', G_GOLD), ('&', 'black'), ('PSI', G_BLUE)])
vertical_parts(9, 481, [('LHCII', G_GOLD), ('&', 'black'), ('LHCI', G_BLUE)])
vertical_parts(9, 791, [(r'Cytochrome $\mathbfit{b_6f}$', G_GOLD), ('&', 'black'),
                        ('ATP synthase', G_BLUE)], fs=11.2)

# stage labels under bottom panels
RED = '#D01818'
BLUE = '#1F7FD2'
stage_colors_left = ['black', RED, RED, RED, RED, BLUE, BLUE, BLUE]
stage_colors_right = [RED, RED, RED, RED, BLUE, BLUE, BLUE]
pos_left = [0.35, 3.1, 5.0, 7.0, 8.85, 10.9, 12.8, 14.9]
pos_right = [3.3, 5.25, 7.2, 9.0, 11.05, 12.9, 14.9]
for ax, labs, cols, pos in [(axes['k'], stage_labels_left, stage_colors_left, pos_left),
                            (axes['l'], stage_labels_right, stage_colors_right, pos_right)]:
    tr = blended_transform_factory(ax.transData, fig.transFigure)
    for s, c, p in zip(labs, cols, pos):
        ax.text(p, 1 - 958 / H, s, transform=tr, color=c, fontsize=9, fontweight='bold',
                ha='center', va='center', clip_on=False)

fig.text(417 / W, 1 - 987 / H, 'Time point', fontsize=11.5, fontweight='bold',
         ha='center', va='center')

fig.savefig('out.png', dpi=100)
